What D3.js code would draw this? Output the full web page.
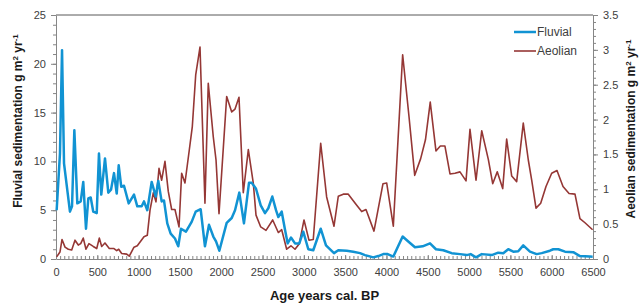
<!DOCTYPE html>
<html>
<head>
<meta charset="utf-8">
<script src="https://cdn.jsdelivr.net/npm/d3@7"></script>
<style>
  body { margin: 0; background: #fff; }
  svg { font-family: "Liberation Sans", Arial, sans-serif; }
</style>
</head>
<body>
<div id="chart"></div>
<script>
// Fluvial series (age, g m2 yr-1)
const fluvialAge = [8, 48, 73, 97, 169, 194, 222, 258, 299, 330, 363, 391, 420, 451, 493, 520, 548, 593, 633, 666,
  702, 735, 759, 790, 823, 880, 944, 984, 1037, 1065, 1105, 1158, 1207, 1238, 1279, 1307, 1347, 1388, 1440, 1480,
  1513, 1573, 1642, 1691, 1751, 1803, 1852, 1904, 1937, 1977, 2066, 2127, 2167, 2219, 2275, 2336, 2369, 2421, 2478, 2530,
  2570, 2618, 2663, 2691, 2732, 2772, 2804, 2844, 2893, 2945, 2993, 3054, 3114, 3204, 3268, 3365, 3417, 3519, 3598, 3680,
  3740, 3840, 3901, 3962, 4015, 4083, 4196, 4264, 4345, 4438, 4527, 4599, 4688, 4789, 4890, 4971, 5019, 5084, 5153, 5274,
  5353, 5414, 5474, 5535, 5595, 5656, 5737, 5818, 5879, 5979, 6019, 6080, 6161, 6261, 6342, 6463, 6496];
const fluvialValue = [5.0, 10.8, 21.4, 9.8, 4.85, 5.4, 13.2, 5.7, 5.9, 7.9, 3.1, 6.2, 6.3, 4.85, 4.7, 10.8, 6.6, 10.3, 6.8, 7.1,
  8.8, 6.7, 9.6, 7.4, 7.5, 5.7, 6.6, 5.4, 5.4, 5.9, 5.0, 7.9, 6.4, 8.0, 5.9, 6.0, 3.65, 2.6, 2.1, 1.3,
  3.1, 2.8, 3.8, 4.85, 5.1, 1.3, 3.5, 2.3, 1.8, 0.85, 3.7, 4.2, 5.0, 6.8, 3.65, 7.8, 7.8, 7.2, 5.5, 4.7,
  5.2, 6.4, 5.0, 4.3, 4.85, 3.0, 1.6, 2.2, 1.6, 1.6, 2.8, 1.0, 0.9, 3.1, 1.4, 0.6, 0.9, 0.85, 0.75, 0.6,
  0.4, 0.17, 0.3, 0.5, 0.5, 0.25, 2.3, 1.8, 1.2, 1.3, 1.6, 1.0, 0.9, 0.6, 0.5, 0.4, 0.5, 0.17, 0.5, 0.4,
  0.65, 0.6, 1.0, 0.75, 0.8, 1.4, 0.75, 0.5, 0.6, 0.85, 1.0, 1.0, 0.75, 0.7, 0.3, 0.25, 0.24];

// Aeolian series (age, g m2 yr-1, right axis)
const aeolianAge = [8, 48, 73, 109, 149, 190, 230, 270, 299, 330, 363, 399, 451, 493, 524, 553, 593, 645, 702, 735,
  759, 795, 856, 887, 944, 984, 1065, 1105, 1138, 1178, 1210, 1247, 1279, 1319, 1359, 1400, 1440, 1489, 1521, 1561,
  1613, 1650, 1691, 1743, 1803, 1843, 1904, 1937, 1973, 2066, 2127, 2167, 2215, 2267, 2328, 2388, 2421, 2478, 2542, 2623,
  2691, 2732, 2792, 2844, 2893, 2945, 3002, 3062, 3114, 3204, 3276, 3365, 3417, 3477, 3538, 3640, 3700, 3752, 3849, 3958,
  4003, 4083, 4196, 4273, 4342, 4414, 4472, 4530, 4599, 4652, 4708, 4769, 4829, 4890, 4963, 5011, 5084, 5153, 5233, 5286,
  5341, 5407, 5455, 5516, 5576, 5656, 5717, 5758, 5810, 5867, 5931, 6000, 6064, 6137, 6210, 6282, 6342, 6403, 6495];
const aeolianValue = [0.03, 0.10, 0.28, 0.17, 0.14, 0.13, 0.27, 0.20, 0.22, 0.30, 0.14, 0.22, 0.18, 0.15, 0.30, 0.18, 0.23, 0.15, 0.15, 0.12,
  0.14, 0.08, 0.07, 0.04, 0.17, 0.19, 0.32, 0.34, 0.70, 0.95, 0.82, 1.30, 1.13, 1.40, 0.97, 0.71, 0.71, 0.46, 1.23, 1.09,
  1.56, 1.90, 2.64, 3.04, 0.80, 2.52, 1.75, 1.42, 0.65, 2.33, 2.11, 2.15, 2.32, 0.95, 1.57, 1.09, 0.63, 0.46, 0.41, 0.56,
  0.38, 0.42, 0.14, 0.19, 0.14, 0.22, 0.56, 0.27, 0.28, 1.66, 0.89, 0.47, 0.90, 0.93, 0.93, 0.77, 0.68, 0.71, 0.40, 1.08,
  1.09, 0.47, 2.93, 2.04, 1.20, 1.44, 1.71, 2.25, 1.55, 1.62, 1.62, 1.22, 1.23, 1.25, 1.12, 1.86, 1.13, 1.84, 1.43, 1.08,
  1.25, 1.01, 1.72, 1.19, 1.11, 1.95, 1.42, 1.13, 0.73, 0.80, 1.04, 1.23, 1.27, 1.04, 0.94, 0.93, 0.58, 0.52, 0.42];

const xTicks = d3.range(0, 6501, 500);
const leftTicks = [0, 5, 10, 15, 20, 25];
const rightTicks = [0, 0.5, 1, 1.5, 2, 2.5, 3, 3.5];

const seriesNames = ["Fluvial", "Aeolian"];
const seriesColors = ["#1193d3", "#953735"];

const width = 642, height = 306;
const margin = { top: 15, right: 49, bottom: 47, left: 56 };

const svg = d3.select("#chart").append("svg")
    .attr("width", width)
    .attr("height", height);

const x = d3.scaleLinear().domain([0, 6500]).range([margin.left, width - margin.right]);
const yL = d3.scaleLinear().domain([0, 25]).range([height - margin.bottom, margin.top]);
const yR = d3.scaleLinear().domain([0, 3.5]).range([height - margin.bottom, margin.top]);

const axisColor = "#868686";
const labelColor = "#404040";

// top frame line
svg.append("line")
    .attr("x1", x(0)).attr("x2", x(6500))
    .attr("y1", yL(25)).attr("y2", yL(25))
    .attr("stroke", "#595959").attr("stroke-width", 1);

function styleAxis(g) {
    g.select(".domain").attr("stroke", axisColor);
    g.selectAll(".tick line").attr("stroke", axisColor);
    g.selectAll("text").attr("fill", labelColor).style("font-size", "11px");
}

// X axis minor ticks (every 50 years)
svg.append("g")
    .attr("transform", `translate(0,${yL(0)})`)
    .call(d3.axisBottom(x).tickValues(d3.range(0, 6501, 50)).tickSize(-3).tickFormat(""))
    .call(g => { g.select(".domain").remove(); g.selectAll(".tick line").attr("stroke", axisColor); });

svg.append("g")
    .attr("transform", `translate(0,${yL(0)})`)
    .call(d3.axisBottom(x).tickValues(xTicks).tickSize(-4).tickSizeOuter(0).tickPadding(9).tickFormat(d3.format("d")))
    .call(styleAxis);

// left axis
svg.append("g")
    .attr("transform", `translate(${x(0)},0)`)
    .call(d3.axisLeft(yL).tickValues(d3.range(0, 25.01, 1)).tickSize(3).tickFormat(""))
    .call(g => { g.select(".domain").remove(); g.selectAll(".tick line").attr("stroke", axisColor); });

svg.append("g")
    .attr("transform", `translate(${x(0)},0)`)
    .call(d3.axisLeft(yL).tickValues(leftTicks).tickSize(5).tickSizeOuter(0).tickPadding(5))
    .call(styleAxis);

// right axis
svg.append("g")
    .attr("transform", `translate(${x(6500)},0)`)
    .call(d3.axisRight(yR).tickValues(d3.range(0, 35.01, 1).map(d => d / 10)).tickSize(3).tickFormat(""))
    .call(g => { g.select(".domain").remove(); g.selectAll(".tick line").attr("stroke", axisColor); });

svg.append("g")
    .attr("transform", `translate(${x(6500)},0)`)
    .call(d3.axisRight(yR).tickValues(rightTicks).tickSize(5).tickSizeOuter(0).tickPadding(5).tickFormat(d3.format("")))
    .call(styleAxis);

// lines
const fluvial = fluvialAge.map((a, i) => [a, fluvialValue[i]]);
const aeolian = aeolianAge.map((a, i) => [a, aeolianValue[i]]);

svg.append("path")
    .datum(aeolian)
    .attr("fill", "none")
    .attr("stroke", seriesColors[1])
    .attr("stroke-width", 1.6)
    .attr("stroke-linejoin", "round")
    .attr("d", d3.line().x(d => x(d[0])).y(d => yR(d[1])));

svg.append("path")
    .datum(fluvial)
    .attr("fill", "none")
    .attr("stroke", seriesColors[0])
    .attr("stroke-width", 2.5)
    .attr("stroke-linejoin", "round")
    .attr("d", d3.line().x(d => x(d[0])).y(d => yL(d[1])));

// axis titles
svg.append("text")
    .attr("x", (x(0) + x(6500)) / 2)
    .attr("y", 300)
    .attr("text-anchor", "middle")
    .style("font-size", "13px")
    .style("font-weight", "bold")
    .attr("fill", "#1a1a1a")
    .text("Age years cal. BP");

const leftTitle = svg.append("text")
    .attr("transform", `translate(22,${(yL(0) + yL(25)) / 2 - 16}) rotate(-90)`)
    .attr("text-anchor", "middle")
    .style("font-size", "12px")
    .style("font-weight", "bold")
    .attr("fill", "#1a1a1a");
leftTitle.append("tspan").text("Fluvial sedimentation  g m");
leftTitle.append("tspan").attr("dy", -4).style("font-size", "8px").text("2");
leftTitle.append("tspan").attr("dy", 4).text(" yr");
leftTitle.append("tspan").attr("dy", -4).style("font-size", "8px").text("-1");

const rightTitle = svg.append("text")
    .attr("transform", `translate(635,${(yL(0) + yL(25)) / 2 - 8}) rotate(-90)`)
    .attr("text-anchor", "middle")
    .style("font-size", "12px")
    .style("font-weight", "bold")
    .attr("fill", "#1a1a1a");
rightTitle.append("tspan").text("Aeolian sedimentation  g m");
rightTitle.append("tspan").attr("dy", -4).style("font-size", "8px").text("2");
rightTitle.append("tspan").attr("dy", 4).text(" yr");
rightTitle.append("tspan").attr("dy", -4).style("font-size", "8px").text("-1");

// legend
const legend = svg.append("g").attr("transform", "translate(514,32)");
seriesNames.forEach((name, i) => {
    legend.append("line")
        .attr("x1", 0).attr("x2", 22)
        .attr("y1", i * 19).attr("y2", i * 19)
        .attr("stroke", seriesColors[i])
        .attr("stroke-width", i === 0 ? 2.5 : 1.6);
    legend.append("text")
        .attr("x", 23)
        .attr("y", i * 19 + 4)
        .style("font-size", "12px")
        .attr("fill", labelColor)
        .text(name);
});
</script>
</body>
</html>
